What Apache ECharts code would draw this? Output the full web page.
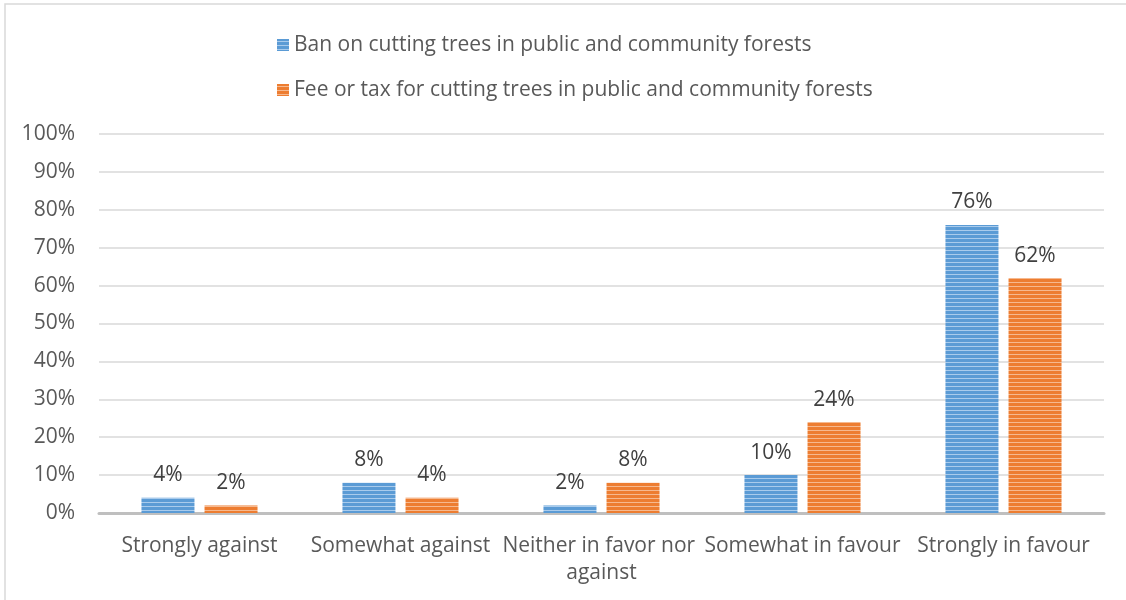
<!DOCTYPE html>
<html><head><meta charset="utf-8">
<script src="https://cdn.jsdelivr.net/npm/echarts@6/dist/echarts.min.js"></script>
<style>html,body{margin:0;padding:0;background:#fff}#c{width:1126px;height:600px}</style>
</head><body><div id="c"></div>
<script>
const categories = ["Strongly against", "Somewhat against", "Neither in favor nor against", "Somewhat in favour", "Strongly in favour"];
const seriesNames = ["Ban on cutting trees in public and community forests", "Fee or tax for cutting trees in public and community forests"];
const banValues = [4, 8, 2, 10, 76];
const feeValues = [2, 4, 8, 24, 62];
const yTicks = [0, 10, 20, 30, 40, 50, 60, 70, 80, 90, 100];

function stripe(base, light) {
  const c = document.createElement('canvas');
  c.width = 4; c.height = 4;
  const ctx = c.getContext('2d');
  ctx.fillStyle = base; ctx.fillRect(0, 0, 4, 4);
  ctx.fillStyle = light; ctx.fillRect(0, 2, 4, 1);
  return { image: c, repeat: 'repeat' };
}
const blue = stripe('#5b9bd5', '#a9cbec');
const orange = stripe('#ed7d31', '#f6b98f');
const FONT = 'Open Sans';
const FS = 21;
const chart = echarts.init(document.getElementById('c'));
chart.setOption({
  animation: false,
  textStyle: { fontFamily: FONT },
  graphic: [{ type: 'rect', shape: { x: 5, y: 4, width: 1130, height: 610 }, style: { fill: 'none', stroke: '#d9d9d9', lineWidth: 1.5 }, silent: true }],
  legend: {
    orient: 'vertical', left: 272, top: 28, itemGap: 21,
    itemWidth: 12, itemHeight: 12, icon: 'rect',
    textStyle: { fontFamily: FONT, fontSize: FS, color: '#595959', lineHeight: 24 },
    data: [
      { name: seriesNames[0], itemStyle: { color: blue } },
      { name: seriesNames[1], itemStyle: { color: orange } }
    ]
  },
  grid: { left: 99, right: 22, top: 134, bottom: 87, containLabel: false },
  xAxis: {
    type: 'category', data: categories,
    axisLine: { lineStyle: { color: '#bfbfbf', width: 3 } },
    axisTick: { show: false },
    axisLabel: { fontFamily: FONT, fontSize: FS, color: '#595959', margin: 20, lineHeight: 27, width: 200, overflow: 'break', interval: 0 }
  },
  yAxis: {
    type: 'value', min: 0, max: 100, interval: 10,
    axisLine: { show: false }, axisTick: { show: false },
    splitLine: { lineStyle: { color: '#d9d9d9', width: 1.5 } },
    axisLabel: { fontFamily: FONT, fontSize: FS, color: '#595959', margin: 24, formatter: v => yTicks.includes(v) ? v + '%' : '' }
  },
  series: [
    { name: seriesNames[0], type: 'bar', data: banValues, barWidth: 53, barGap: '19%',
      itemStyle: { color: blue },
      label: { show: true, position: 'top', distance: 12, formatter: '{c}%', fontFamily: FONT, fontSize: FS, color: '#404040' } },
    { name: seriesNames[1], type: 'bar', data: feeValues, barWidth: 53,
      itemStyle: { color: orange },
      label: { show: true, position: 'top', distance: 12, formatter: '{c}%', fontFamily: FONT, fontSize: FS, color: '#404040' } }
  ]
});
</script></body></html>
